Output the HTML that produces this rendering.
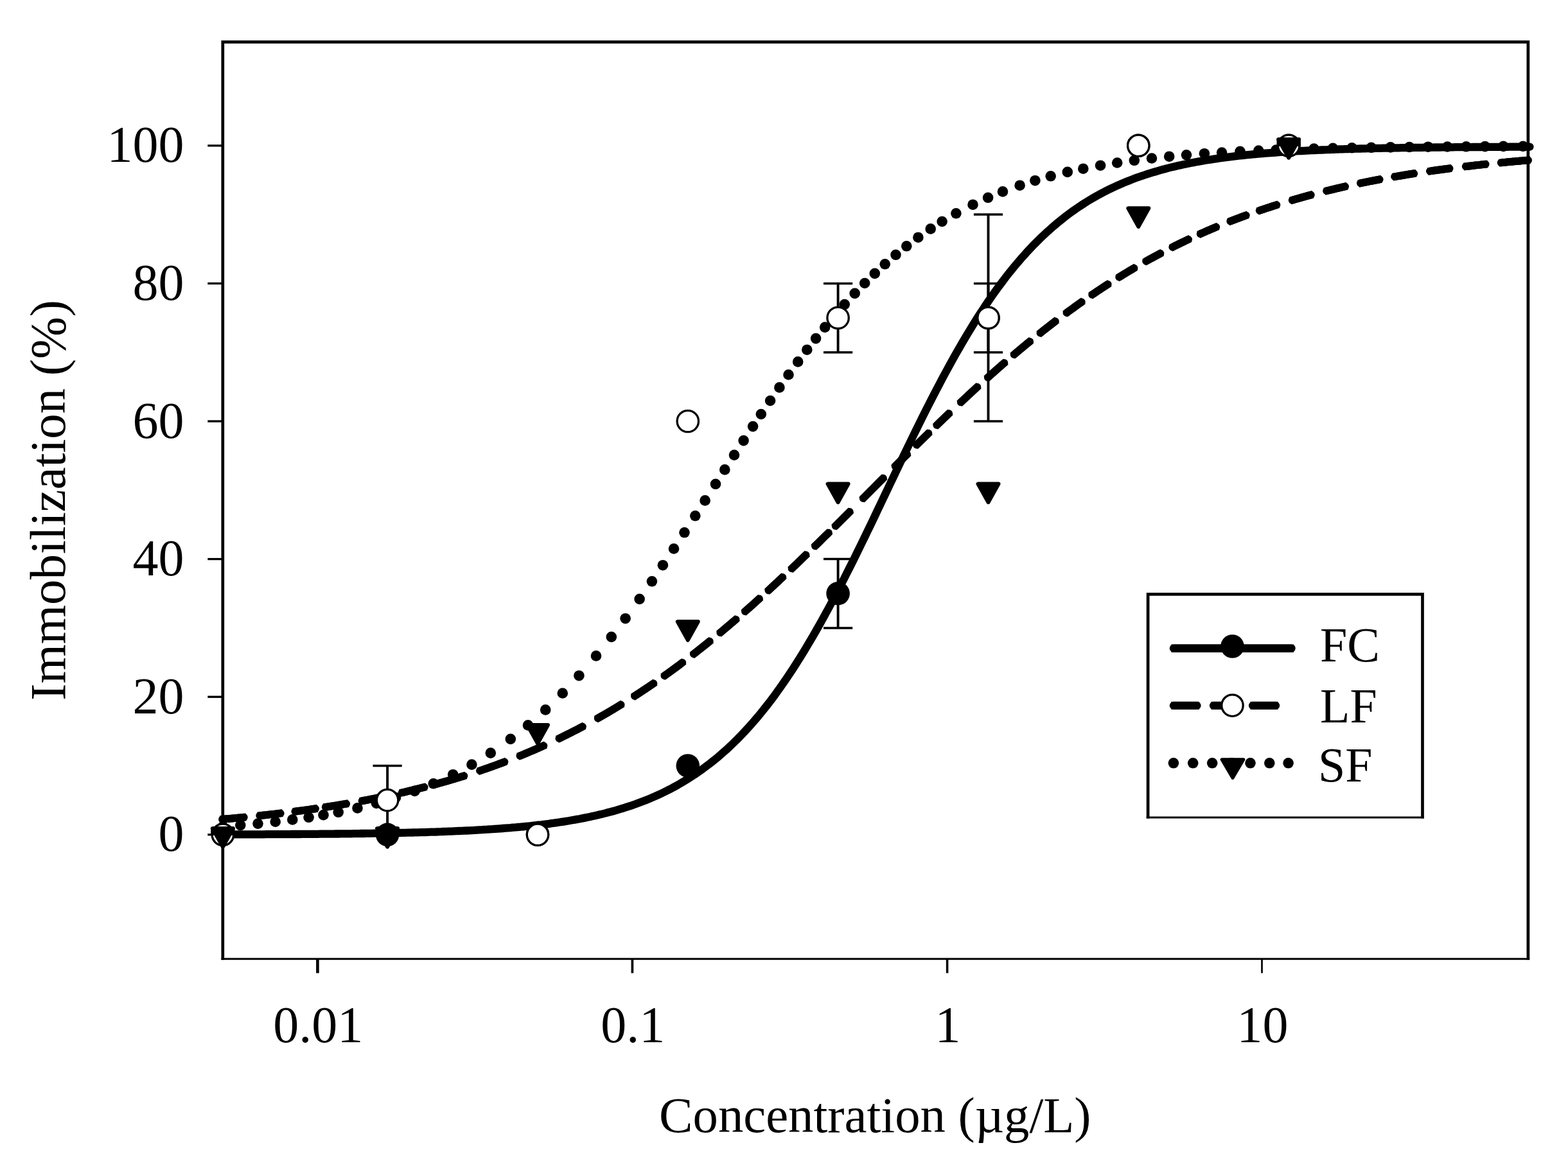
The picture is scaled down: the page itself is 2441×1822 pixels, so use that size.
<!DOCTYPE html>
<html lang="en"><head><meta charset="utf-8"><title>Immobilization vs concentration</title>
<style>html,body{margin:0;padding:0;background:#fff}body{width:2441px;height:1822px;overflow:hidden}svg{display:block}text{font-family:"Liberation Serif","Times New Roman",serif;fill:#000}</style>
</head><body>
<svg xmlns="http://www.w3.org/2000/svg" width="2441" height="1822" viewBox="0 0 2441 1822">
<rect width="2441" height="1822" fill="#fff"/>
<g id="frame" fill="none" stroke="#000">
<path d="M346.8,1494.8 V65.3 H2378.9 V1494.8" stroke-width="4.7" stroke-linejoin="miter"/>
<path d="M344.4,1493.3 H2381.2" stroke-width="3.1"/>
<path d="M349.2,1491.1 H2376.6" stroke="#d4d4d4" stroke-width="1.3"/>
</g>
<g id="ticks" stroke="#000" fill="none">
<path d="M323.3,1299.8 H346.8" stroke-width="3.3"/>
<path d="M323.3,1085.2 H346.8" stroke-width="3.3"/>
<path d="M323.3,870.6 H346.8" stroke-width="3.3"/>
<path d="M323.3,656.0 H346.8" stroke-width="3.3"/>
<path d="M323.3,441.4 H346.8" stroke-width="3.3"/>
<path d="M323.3,226.8 H346.8" stroke-width="3.3"/>
<path d="M494.4,1493.3 V1515.4" stroke-width="4.6"/>
<path d="M984.4,1493.3 V1515.4" stroke-width="3.7"/>
<path d="M1474.6,1493.3 V1515.4" stroke-width="3.5"/>
<path d="M1964.5,1493.3 V1515.4" stroke-width="2.7"/>
</g>
<g id="curves" fill="none" stroke="#000" stroke-linecap="round" stroke-linejoin="round">
<path id="fc-curve" d="M346.8,1299.5 L350.8,1299.5 L354.8,1299.5 L358.8,1299.4 L362.8,1299.4 L366.8,1299.4 L370.8,1299.4 L374.8,1299.4 L378.8,1299.4 L382.8,1299.4 L386.8,1299.4 L390.8,1299.3 L394.8,1299.3 L398.8,1299.3 L402.8,1299.3 L406.8,1299.3 L410.8,1299.3 L414.8,1299.2 L418.8,1299.2 L422.8,1299.2 L426.7,1299.2 L430.7,1299.2 L434.7,1299.2 L438.7,1299.1 L442.7,1299.1 L446.7,1299.1 L450.7,1299.1 L454.7,1299.0 L458.7,1299.0 L462.7,1299.0 L466.7,1299.0 L470.7,1298.9 L474.7,1298.9 L478.7,1298.9 L482.7,1298.9 L486.7,1298.8 L490.7,1298.8 L494.7,1298.8 L498.7,1298.7 L502.7,1298.7 L506.7,1298.7 L510.7,1298.6 L514.7,1298.6 L518.7,1298.6 L522.7,1298.5 L526.7,1298.5 L530.7,1298.4 L534.7,1298.4 L538.7,1298.3 L542.7,1298.3 L546.7,1298.3 L550.7,1298.2 L554.7,1298.2 L558.7,1298.1 L562.7,1298.0 L566.7,1298.0 L570.7,1297.9 L574.7,1297.9 L578.7,1297.8 L582.6,1297.7 L586.6,1297.7 L590.6,1297.6 L594.6,1297.5 L598.6,1297.5 L602.6,1297.4 L606.6,1297.3 L610.6,1297.2 L614.6,1297.2 L618.6,1297.1 L622.6,1297.0 L626.6,1296.9 L630.6,1296.8 L634.6,1296.7 L638.6,1296.6 L642.6,1296.5 L646.6,1296.4 L650.6,1296.3 L654.6,1296.2 L658.6,1296.1 L662.6,1296.0 L666.6,1295.8 L670.6,1295.7 L674.6,1295.6 L678.6,1295.5 L682.6,1295.3 L686.6,1295.2 L690.6,1295.0 L694.6,1294.9 L698.6,1294.7 L702.6,1294.6 L706.6,1294.4 L710.6,1294.2 L714.6,1294.0 L718.6,1293.9 L722.6,1293.7 L726.6,1293.5 L730.6,1293.3 L734.6,1293.1 L738.5,1292.9 L742.5,1292.6 L746.5,1292.4 L750.5,1292.2 L754.5,1291.9 L758.5,1291.7 L762.5,1291.4 L766.5,1291.2 L770.5,1290.9 L774.5,1290.6 L778.5,1290.3 L782.5,1290.0 L786.5,1289.7 L790.5,1289.4 L794.5,1289.1 L798.5,1288.7 L802.5,1288.4 L806.5,1288.0 L810.5,1287.7 L814.5,1287.3 L818.5,1286.9 L822.5,1286.5 L826.5,1286.1 L830.5,1285.6 L834.5,1285.2 L838.5,1284.7 L842.5,1284.3 L846.5,1283.8 L850.5,1283.3 L854.5,1282.8 L858.5,1282.2 L862.5,1281.7 L866.5,1281.1 L870.5,1280.5 L874.5,1279.9 L878.5,1279.3 L882.5,1278.7 L886.5,1278.0 L890.5,1277.3 L894.5,1276.6 L898.4,1275.9 L902.4,1275.2 L906.4,1274.4 L910.4,1273.6 L914.4,1272.8 L918.4,1272.0 L922.4,1271.1 L926.4,1270.2 L930.4,1269.3 L934.4,1268.3 L938.4,1267.4 L942.4,1266.4 L946.4,1265.3 L950.4,1264.3 L954.4,1263.2 L958.4,1262.1 L962.4,1260.9 L966.4,1259.7 L970.4,1258.5 L974.4,1257.2 L978.4,1255.9 L982.4,1254.6 L986.4,1253.2 L990.4,1251.8 L994.4,1250.3 L998.4,1248.8 L1002.4,1247.3 L1006.4,1245.7 L1010.4,1244.1 L1014.4,1242.4 L1018.4,1240.7 L1022.4,1238.9 L1026.4,1237.1 L1030.4,1235.2 L1034.4,1233.3 L1038.4,1231.3 L1042.4,1229.2 L1046.4,1227.2 L1050.4,1225.0 L1054.3,1222.8 L1058.3,1220.5 L1062.3,1218.2 L1066.3,1215.8 L1070.3,1213.3 L1074.3,1210.8 L1078.3,1208.2 L1082.3,1205.6 L1086.3,1202.8 L1090.3,1200.0 L1094.3,1197.2 L1098.3,1194.2 L1102.3,1191.2 L1106.3,1188.1 L1110.3,1184.9 L1114.3,1181.7 L1118.3,1178.4 L1122.3,1174.9 L1126.3,1171.4 L1130.3,1167.9 L1134.3,1164.2 L1138.3,1160.4 L1142.3,1156.6 L1146.3,1152.7 L1150.3,1148.6 L1154.3,1144.5 L1158.3,1140.3 L1162.3,1136.0 L1166.3,1131.6 L1170.3,1127.1 L1174.3,1122.5 L1178.3,1117.9 L1182.3,1113.1 L1186.3,1108.2 L1190.3,1103.2 L1194.3,1098.1 L1198.3,1093.0 L1202.3,1087.7 L1206.3,1082.3 L1210.2,1076.8 L1214.2,1071.2 L1218.2,1065.5 L1222.2,1059.8 L1226.2,1053.9 L1230.2,1047.9 L1234.2,1041.8 L1238.2,1035.6 L1242.2,1029.3 L1246.2,1022.9 L1250.2,1016.5 L1254.2,1009.9 L1258.2,1003.2 L1262.2,996.4 L1266.2,989.6 L1270.2,982.6 L1274.2,975.6 L1278.2,968.5 L1282.2,961.2 L1286.2,953.9 L1290.2,946.6 L1294.2,939.1 L1298.2,931.6 L1302.2,924.0 L1306.2,916.3 L1310.2,908.5 L1314.2,900.7 L1318.2,892.8 L1322.2,884.9 L1326.2,876.9 L1330.2,868.9 L1334.2,860.8 L1338.2,852.6 L1342.2,844.4 L1346.2,836.2 L1350.2,827.9 L1354.2,819.7 L1358.2,811.3 L1362.2,803.0 L1366.1,794.6 L1370.1,786.3 L1374.1,777.9 L1378.1,769.5 L1382.1,761.1 L1386.1,752.7 L1390.1,744.3 L1394.1,735.9 L1398.1,727.6 L1402.1,719.2 L1406.1,710.9 L1410.1,702.6 L1414.1,694.3 L1418.1,686.1 L1422.1,677.9 L1426.1,669.8 L1430.1,661.6 L1434.1,653.6 L1438.1,645.6 L1442.1,637.6 L1446.1,629.7 L1450.1,621.9 L1454.1,614.1 L1458.1,606.4 L1462.1,598.8 L1466.1,591.2 L1470.1,583.7 L1474.1,576.3 L1478.1,569.0 L1482.1,561.8 L1486.1,554.6 L1490.1,547.5 L1494.1,540.6 L1498.1,533.7 L1502.1,526.9 L1506.1,520.2 L1510.1,513.6 L1514.1,507.0 L1518.1,500.6 L1522.0,494.3 L1526.0,488.1 L1530.0,482.0 L1534.0,476.0 L1538.0,470.0 L1542.0,464.2 L1546.0,458.5 L1550.0,452.9 L1554.0,447.4 L1558.0,442.0 L1562.0,436.7 L1566.0,431.4 L1570.0,426.3 L1574.0,421.3 L1578.0,416.4 L1582.0,411.6 L1586.0,406.9 L1590.0,402.3 L1594.0,397.8 L1598.0,393.3 L1602.0,389.0 L1606.0,384.8 L1610.0,380.6 L1614.0,376.6 L1618.0,372.6 L1622.0,368.7 L1626.0,365.0 L1630.0,361.3 L1634.0,357.7 L1638.0,354.1 L1642.0,350.7 L1646.0,347.3 L1650.0,344.1 L1654.0,340.9 L1658.0,337.7 L1662.0,334.7 L1666.0,331.7 L1670.0,328.8 L1674.0,326.0 L1677.9,323.3 L1681.9,320.6 L1685.9,318.0 L1689.9,315.4 L1693.9,312.9 L1697.9,310.5 L1701.9,308.2 L1705.9,305.9 L1709.9,303.7 L1713.9,301.5 L1717.9,299.4 L1721.9,297.3 L1725.9,295.3 L1729.9,293.4 L1733.9,291.5 L1737.9,289.7 L1741.9,287.9 L1745.9,286.1 L1749.9,284.4 L1753.9,282.8 L1757.9,281.2 L1761.9,279.6 L1765.9,278.1 L1769.9,276.6 L1773.9,275.2 L1777.9,273.8 L1781.9,272.5 L1785.9,271.2 L1789.9,269.9 L1793.9,268.7 L1797.9,267.5 L1801.9,266.3 L1805.9,265.1 L1809.9,264.0 L1813.9,263.0 L1817.9,261.9 L1821.9,260.9 L1825.9,259.9 L1829.9,259.0 L1833.8,258.1 L1837.8,257.2 L1841.8,256.3 L1845.8,255.5 L1849.8,254.6 L1853.8,253.8 L1857.8,253.1 L1861.8,252.3 L1865.8,251.6 L1869.8,250.9 L1873.8,250.2 L1877.8,249.5 L1881.8,248.9 L1885.8,248.3 L1889.8,247.7 L1893.8,247.1 L1897.8,246.5 L1901.8,245.9 L1905.8,245.4 L1909.8,244.9 L1913.8,244.4 L1917.8,243.9 L1921.8,243.4 L1925.8,242.9 L1929.8,242.5 L1933.8,242.1 L1937.8,241.6 L1941.8,241.2 L1945.8,240.8 L1949.8,240.4 L1953.8,240.1 L1957.8,239.7 L1961.8,239.4 L1965.8,239.0 L1969.8,238.7 L1973.8,238.4 L1977.8,238.1 L1981.8,237.8 L1985.8,237.5 L1989.8,237.2 L1993.7,236.9 L1997.7,236.6 L2001.7,236.4 L2005.7,236.1 L2009.7,235.9 L2013.7,235.6 L2017.7,235.4 L2021.7,235.2 L2025.7,235.0 L2029.7,234.8 L2033.7,234.6 L2037.7,234.4 L2041.7,234.2 L2045.7,234.0 L2049.7,233.8 L2053.7,233.7 L2057.7,233.5 L2061.7,233.3 L2065.7,233.2 L2069.7,233.0 L2073.7,232.9 L2077.7,232.7 L2081.7,232.6 L2085.7,232.4 L2089.7,232.3 L2093.7,232.2 L2097.7,232.1 L2101.7,231.9 L2105.7,231.8 L2109.7,231.7 L2113.7,231.6 L2117.7,231.5 L2121.7,231.4 L2125.7,231.3 L2129.7,231.2 L2133.7,231.1 L2137.7,231.0 L2141.7,230.9 L2145.7,230.9 L2149.6,230.8 L2153.6,230.7 L2157.6,230.6 L2161.6,230.5 L2165.6,230.5 L2169.6,230.4 L2173.6,230.3 L2177.6,230.3 L2181.6,230.2 L2185.6,230.1 L2189.6,230.1 L2193.6,230.0 L2197.6,230.0 L2201.6,229.9 L2205.6,229.9 L2209.6,229.8 L2213.6,229.8 L2217.6,229.7 L2221.6,229.7 L2225.6,229.6 L2229.6,229.6 L2233.6,229.5 L2237.6,229.5 L2241.6,229.5 L2245.6,229.4 L2249.6,229.4 L2253.6,229.3 L2257.6,229.3 L2261.6,229.3 L2265.6,229.2 L2269.6,229.2 L2273.6,229.2 L2277.6,229.1 L2281.6,229.1 L2285.6,229.1 L2289.6,229.1 L2293.6,229.0 L2297.6,229.0 L2301.6,229.0 L2305.5,229.0 L2309.5,228.9 L2313.5,228.9 L2317.5,228.9 L2321.5,228.9 L2325.5,228.8 L2329.5,228.8 L2333.5,228.8 L2337.5,228.8 L2341.5,228.8 L2345.5,228.8 L2349.5,228.7 L2353.5,228.7 L2357.5,228.7 L2361.5,228.7 L2365.5,228.7 L2369.5,228.7 L2373.5,228.6 L2377.5,228.6 L2381.5,228.6" stroke-width="12.3"/>
<path id="lf-curve" d="M346.0,1275.9 L349.8,1275.5 L353.5,1275.2 L357.3,1274.9 L361.0,1274.5 L364.8,1274.2 L368.5,1273.8 L372.3,1273.5 L376.0,1273.1 L379.8,1272.7 M404.2,1270.2 L407.8,1269.8 L411.4,1269.4 L415.0,1269.0 L418.6,1268.6 L422.3,1268.2 L425.9,1267.8 L429.5,1267.4 L433.1,1266.9 L436.7,1266.5 M459.3,1263.7 L463.3,1263.1 L467.2,1262.6 L471.2,1262.1 L475.2,1261.5 L479.2,1261.0 L483.1,1260.4 L487.1,1259.9 L491.1,1259.3 M506.7,1256.9 L510.3,1256.4 L513.9,1255.8 L517.5,1255.2 L521.1,1254.7 L524.8,1254.1 L528.4,1253.5 L532.0,1252.9 L535.6,1252.3 L539.2,1251.6 M563.6,1247.3 L567.2,1246.6 L570.8,1245.9 L574.4,1245.2 L578.0,1244.5 L581.7,1243.8 L585.3,1243.1 L588.9,1242.3 L592.5,1241.6 L596.1,1240.8 M625.7,1234.4 L629.6,1233.5 L633.5,1232.6 L637.4,1231.6 L641.3,1230.7 L645.1,1229.7 L649.0,1228.8 L652.9,1227.8 L656.8,1226.8 L660.7,1225.8 M677.9,1221.3 L681.6,1220.3 L685.3,1219.2 L689.0,1218.2 L692.7,1217.1 L696.4,1216.1 L700.1,1215.0 L703.9,1213.9 L707.6,1212.8 L711.3,1211.7 L715.0,1210.6 L718.7,1209.4 L722.4,1208.3 M747.0,1200.3 L750.8,1199.0 L754.7,1197.6 L758.5,1196.3 L762.4,1195.0 L766.2,1193.6 L770.0,1192.2 L773.9,1190.8 L777.7,1189.4 L781.6,1188.0 L785.4,1186.5 M809.4,1177.1 L813.1,1175.6 L816.8,1174.0 L820.5,1172.5 L824.2,1170.9 L827.9,1169.4 L831.6,1167.8 L835.3,1166.1 L839.0,1164.5 L842.7,1162.9 L846.4,1161.2 M870.4,1150.0 L874.0,1148.2 L877.7,1146.4 L881.4,1144.6 L885.0,1142.8 L888.6,1141.0 L892.3,1139.1 L895.9,1137.3 L899.6,1135.4 L903.2,1133.4 L906.9,1131.5 M930.7,1118.5 L934.7,1116.2 L938.7,1114.0 L942.7,1111.6 L946.7,1109.3 L950.6,1107.0 L954.6,1104.6 L958.6,1102.2 L962.6,1099.8 L966.6,1097.3 M987.9,1083.9 L991.6,1081.5 L995.3,1079.1 L999.0,1076.7 L1002.6,1074.2 L1006.3,1071.8 L1010.0,1069.3 L1013.7,1066.8 L1017.4,1064.3 M1034.4,1052.4 L1038.4,1049.5 L1042.4,1046.6 L1046.4,1043.7 L1050.3,1040.8 L1054.3,1037.9 L1058.3,1034.9 L1062.3,1031.9 M1079.8,1018.5 L1083.4,1015.8 L1086.9,1013.0 L1090.5,1010.1 L1094.1,1007.3 L1097.7,1004.5 L1101.2,1001.6 L1104.8,998.7 M1121.3,985.2 L1124.8,982.3 L1128.2,979.3 L1131.7,976.4 L1135.2,973.5 L1138.7,970.5 L1142.1,967.5 L1145.6,964.6 M1159.9,952.1 L1163.6,948.9 L1167.3,945.6 L1171.0,942.3 L1174.6,939.0 L1178.3,935.7 L1182.0,932.4 M1196.3,919.3 L1200.0,916.0 L1203.6,912.6 L1207.3,909.2 L1211.0,905.8 L1214.6,902.3 L1218.3,898.9 M1232.6,885.4 L1236.3,881.9 L1239.9,878.4 L1243.6,874.9 L1247.3,871.3 L1250.9,867.8 L1254.6,864.2 M1268.9,850.3 L1272.4,846.9 L1275.9,843.5 L1279.4,840.0 L1282.9,836.6 L1286.4,833.1 L1289.9,829.7 M1300.6,819.1 L1304.3,815.4 L1308.0,811.7 L1311.7,808.0 L1315.4,804.3 L1319.1,800.6 L1322.8,796.9 M1343.7,776.0 L1347.6,772.1 L1351.5,768.2 L1355.4,764.2 L1359.3,760.3 L1363.3,756.4 L1367.2,752.4 L1371.1,748.5 L1375.0,744.6 M1393.6,726.0 L1397.3,722.3 L1401.0,718.6 L1404.7,714.9 L1408.4,711.2 L1412.1,707.5 M1426.9,692.9 L1430.6,689.2 L1434.3,685.6 L1438.0,682.0 L1441.7,678.3 L1445.4,674.7 M1458.3,662.2 L1462.1,658.5 L1465.9,654.9 L1469.6,651.2 L1473.4,647.6 L1477.2,644.0 M1495.8,626.4 L1499.5,623.0 L1503.1,619.6 L1506.8,616.1 L1510.4,612.8 L1514.1,609.4 L1517.7,606.0 L1521.4,602.7 M1537.8,587.8 L1541.5,584.5 L1545.1,581.3 L1548.8,578.0 L1552.4,574.8 L1556.1,571.6 L1559.7,568.4 L1563.4,565.2 M1578.6,552.2 L1582.1,549.2 L1585.6,546.3 L1589.1,543.3 L1592.6,540.4 L1596.1,537.5 L1599.6,534.6 L1603.1,531.8 M1619.5,518.6 L1623.4,515.5 L1627.3,512.4 L1631.2,509.3 L1635.1,506.3 L1639.0,503.3 L1642.9,500.3 M1660.5,487.1 L1664.4,484.3 L1668.3,481.4 L1672.2,478.6 L1676.0,475.8 L1679.9,473.0 L1683.8,470.3 M1700.2,458.9 L1703.7,456.6 L1707.2,454.2 L1710.7,451.9 L1714.2,449.5 L1717.7,447.2 L1721.2,444.9 L1724.7,442.7 M1742.2,431.6 L1746.1,429.2 L1750.0,426.8 L1753.8,424.5 L1757.7,422.1 L1761.6,419.8 L1765.5,417.5 M1784.1,406.8 L1787.8,404.8 L1791.5,402.7 L1795.2,400.7 L1799.0,398.7 L1802.7,396.7 L1806.4,394.7 M1825.3,384.9 L1828.8,383.1 L1832.4,381.3 L1835.9,379.6 L1839.5,377.9 L1843.0,376.2 L1846.6,374.5 L1850.1,372.8 M1868.7,364.2 L1872.2,362.6 L1875.7,361.1 L1879.2,359.5 L1882.8,358.0 L1886.3,356.5 L1889.8,355.0 L1893.3,353.5 M1915.3,344.6 L1918.8,343.2 L1922.3,341.9 L1925.8,340.5 L1929.3,339.2 L1932.8,337.9 L1936.3,336.6 L1939.8,335.3 M1960.7,327.9 L1964.5,326.6 L1968.3,325.3 L1972.1,324.0 L1976.0,322.8 L1979.8,321.5 L1983.6,320.3 L1987.4,319.1 M2011.7,311.7 L2015.3,310.6 L2019.0,309.6 L2022.6,308.6 L2026.2,307.5 L2029.9,306.5 L2033.5,305.5 L2037.2,304.5 L2040.8,303.5 M2065.1,297.3 L2068.7,296.4 L2072.3,295.5 L2076.0,294.7 L2079.6,293.8 L2083.2,292.9 L2086.8,292.1 L2090.5,291.3 L2094.1,290.5 M2117.9,285.3 L2121.6,284.5 L2125.3,283.8 L2129.1,283.0 L2132.8,282.3 L2136.5,281.6 L2140.2,280.8 L2144.0,280.1 L2147.7,279.4 M2171.1,275.2 L2174.9,274.5 L2178.6,273.9 L2182.4,273.3 L2186.2,272.6 L2190.0,272.0 L2193.8,271.4 L2197.5,270.8 L2201.3,270.2 M2225.9,266.5 L2229.7,266.0 L2233.6,265.4 L2237.4,264.9 L2241.2,264.4 L2245.1,263.8 L2248.9,263.3 L2252.8,262.8 L2256.6,262.3 M2281.7,259.2 L2285.6,258.8 L2289.5,258.3 L2293.3,257.9 L2297.2,257.4 L2301.1,257.0 L2304.9,256.6 L2308.8,256.2 L2312.7,255.7 M2336.7,253.3 L2340.6,252.9 L2344.4,252.6 L2348.3,252.2 L2352.1,251.8 L2356.0,251.5 L2359.8,251.1 L2363.7,250.8 L2367.5,250.5 L2371.4,250.1 L2375.2,249.8 L2379.1,249.5" stroke-width="11.8"/>
<path id="lf-curve-body" d="M342.7,1276.2 L346.4,1275.8 L350.1,1275.5 L353.7,1275.2 L357.4,1274.9 L361.1,1274.5 L364.7,1274.2 L368.4,1273.8 L372.1,1273.5 L375.7,1273.1 L379.4,1272.8 L383.1,1272.4 M400.9,1270.6 L404.8,1270.1 L408.7,1269.7 L412.6,1269.3 L416.5,1268.9 L420.4,1268.4 L424.4,1268.0 L428.3,1267.5 L432.2,1267.1 L436.1,1266.6 L440.0,1266.1 M456.0,1264.1 L459.9,1263.6 L463.7,1263.1 L467.5,1262.6 L471.4,1262.1 L475.2,1261.5 L479.0,1261.0 L482.9,1260.5 L486.7,1259.9 L490.5,1259.4 L494.4,1258.8 M503.4,1257.4 L507.3,1256.8 L511.2,1256.2 L515.1,1255.6 L519.0,1255.0 L522.9,1254.4 L526.8,1253.7 L530.7,1253.1 L534.6,1252.4 L538.6,1251.8 L542.5,1251.1 M560.4,1247.9 L564.3,1247.1 L568.2,1246.4 L572.0,1245.7 L575.9,1244.9 L579.8,1244.1 L583.7,1243.4 L587.6,1242.6 L591.5,1241.8 L595.4,1241.0 L599.3,1240.2 M622.5,1235.1 L626.2,1234.2 L630.0,1233.4 L633.8,1232.5 L637.5,1231.6 L641.3,1230.7 L645.1,1229.8 L648.8,1228.8 L652.6,1227.9 L656.4,1226.9 L660.1,1226.0 L663.9,1225.0 M674.7,1222.1 L678.6,1221.1 L682.5,1220.0 L686.4,1218.9 L690.4,1217.8 L694.3,1216.7 L698.2,1215.6 L702.1,1214.4 L706.0,1213.3 L709.9,1212.1 L713.8,1210.9 L717.7,1209.7 L721.6,1208.5 L725.5,1207.3 M743.9,1201.3 L747.6,1200.1 L751.3,1198.8 L755.0,1197.5 L758.7,1196.2 L762.5,1194.9 L766.2,1193.6 L769.9,1192.3 L773.6,1190.9 L777.3,1189.5 L781.1,1188.1 L784.8,1186.7 L788.5,1185.3 M806.3,1178.3 L810.3,1176.7 L814.2,1175.1 L818.1,1173.5 L822.0,1171.9 L825.9,1170.2 L829.8,1168.5 L833.7,1166.8 L837.7,1165.1 L841.6,1163.4 L845.5,1161.6 L849.4,1159.8 M867.4,1151.4 L871.3,1149.6 L875.1,1147.7 L879.0,1145.8 L882.8,1143.9 L886.7,1142.0 L890.5,1140.0 L894.4,1138.0 L898.3,1136.1 L902.1,1134.0 L906.0,1132.0 L909.8,1130.0 M927.8,1120.1 L931.6,1118.0 L935.4,1115.8 L939.2,1113.7 L942.9,1111.5 L946.7,1109.3 L950.5,1107.0 L954.3,1104.8 L958.1,1102.5 L961.9,1100.2 L965.6,1097.9 L969.4,1095.6 M985.1,1085.7 L989.0,1083.2 L992.9,1080.7 L996.8,1078.1 L1000.7,1075.6 L1004.6,1073.0 L1008.5,1070.4 L1012.3,1067.7 L1016.2,1065.1 L1020.1,1062.4 M1031.7,1054.3 L1035.4,1051.6 L1039.1,1049.0 L1042.8,1046.3 L1046.5,1043.6 L1050.2,1040.9 L1053.9,1038.2 L1057.6,1035.5 L1061.2,1032.7 L1064.9,1029.9 M1077.2,1020.6 L1081.0,1017.6 L1084.7,1014.7 L1088.5,1011.7 L1092.3,1008.7 L1096.0,1005.7 L1099.8,1002.7 L1103.6,999.7 L1107.4,996.6 M1118.8,987.3 L1122.4,984.2 L1126.1,981.1 L1129.8,978.1 L1133.4,975.0 L1137.1,971.8 L1140.8,968.7 L1144.4,965.6 L1148.1,962.4 M1157.4,954.3 L1161.3,950.9 L1165.1,947.5 L1169.0,944.0 L1172.9,940.6 L1176.7,937.1 L1180.6,933.7 L1184.4,930.2 M1193.9,921.6 L1197.7,918.1 L1201.5,914.5 L1205.4,911.0 L1209.2,907.4 L1213.0,903.8 L1216.9,900.2 L1220.7,896.6 M1230.2,887.6 L1234.0,884.0 L1237.9,880.4 L1241.7,876.7 L1245.5,873.0 L1249.3,869.3 L1253.1,865.6 L1257.0,861.9 M1266.5,852.6 L1270.2,849.0 L1273.9,845.4 L1277.6,841.8 L1281.2,838.2 L1284.9,834.6 L1288.6,831.0 L1292.2,827.4 M1298.3,821.4 L1302.1,817.6 L1305.9,813.8 L1309.8,810.0 L1313.6,806.1 L1317.5,802.3 L1321.3,798.5 L1325.1,794.6 M1341.4,778.3 L1345.4,774.3 L1349.4,770.3 L1353.4,766.3 L1357.4,762.3 L1361.3,758.3 L1365.3,754.3 L1369.3,750.3 L1373.3,746.3 L1377.3,742.3 M1391.3,728.3 L1395.1,724.4 L1399.0,720.6 L1402.9,716.7 L1406.7,712.9 L1410.6,709.1 L1414.4,705.2 M1424.6,695.2 L1428.4,691.4 L1432.3,687.6 L1436.2,683.8 L1440.0,680.0 L1443.9,676.2 L1447.8,672.4 M1455.9,664.5 L1459.9,660.7 L1463.8,656.8 L1467.8,653.0 L1471.7,649.3 L1475.6,645.5 L1479.6,641.7 M1493.4,628.7 L1497.2,625.1 L1501.0,621.5 L1504.8,618.0 L1508.6,614.4 L1512.4,610.9 L1516.2,607.4 L1520.0,603.9 L1523.8,600.4 M1535.3,590.0 L1539.2,586.6 L1543.0,583.2 L1546.8,579.8 L1550.6,576.4 L1554.4,573.1 L1558.3,569.7 L1562.1,566.4 L1565.9,563.1 M1576.1,554.3 L1579.8,551.2 L1583.5,548.1 L1587.2,545.0 L1590.9,541.9 L1594.6,538.8 L1598.3,535.7 L1602.0,532.7 L1605.7,529.7 M1616.9,520.6 L1620.5,517.8 L1624.1,514.9 L1627.6,512.1 L1631.2,509.3 L1634.8,506.6 L1638.4,503.8 L1641.9,501.0 L1645.5,498.3 M1657.8,489.1 L1661.4,486.4 L1665.0,483.8 L1668.6,481.2 L1672.2,478.6 L1675.8,476.0 L1679.3,473.5 L1682.9,470.9 L1686.5,468.4 M1697.5,460.8 L1701.2,458.2 L1705.0,455.7 L1708.7,453.2 L1712.5,450.7 L1716.2,448.2 L1720.0,445.7 L1723.7,443.3 L1727.5,440.9 M1739.4,433.3 L1743.0,431.1 L1746.6,428.9 L1750.3,426.6 L1753.9,424.5 L1757.5,422.3 L1761.1,420.1 L1764.7,418.0 L1768.3,415.9 M1781.2,408.5 L1784.7,406.5 L1788.2,404.5 L1791.8,402.6 L1795.3,400.7 L1798.8,398.8 L1802.3,396.9 L1805.8,395.0 L1809.3,393.1 M1822.4,386.4 L1826.2,384.4 L1830.0,382.5 L1833.9,380.6 L1837.7,378.7 L1841.6,376.9 L1845.4,375.0 L1849.2,373.2 L1853.1,371.4 M1865.7,365.6 L1869.5,363.8 L1873.4,362.1 L1877.2,360.4 L1881.0,358.8 L1884.8,357.1 L1888.7,355.5 L1892.5,353.9 L1896.3,352.3 M1912.2,345.8 L1916.1,344.3 L1919.9,342.8 L1923.7,341.3 L1927.6,339.9 L1931.4,338.4 L1935.2,337.0 L1939.1,335.6 L1942.9,334.2 M1957.6,329.0 L1961.2,327.7 L1964.9,326.5 L1968.6,325.2 L1972.2,324.0 L1975.9,322.8 L1979.6,321.6 L1983.2,320.4 L1986.9,319.3 L1990.5,318.1 M2008.5,312.6 L2012.5,311.5 L2016.4,310.3 L2020.4,309.2 L2024.3,308.1 L2028.2,307.0 L2032.2,305.9 L2036.1,304.8 L2040.0,303.7 L2044.0,302.7 M2061.9,298.1 L2065.8,297.1 L2069.8,296.2 L2073.7,295.2 L2077.6,294.3 L2081.6,293.3 L2085.5,292.4 L2089.4,291.5 L2093.4,290.6 L2097.3,289.7 M2114.7,286.0 L2118.3,285.2 L2121.9,284.5 L2125.6,283.7 L2129.2,283.0 L2132.8,282.3 L2136.4,281.6 L2140.1,280.9 L2143.7,280.2 L2147.3,279.5 L2150.9,278.8 M2167.8,275.8 L2171.5,275.1 L2175.2,274.5 L2178.9,273.9 L2182.5,273.2 L2186.2,272.6 L2189.9,272.0 L2193.5,271.4 L2197.2,270.9 L2200.9,270.3 L2204.6,269.7 M2222.6,267.0 L2226.4,266.5 L2230.1,265.9 L2233.8,265.4 L2237.5,264.9 L2241.3,264.4 L2245.0,263.9 L2248.7,263.4 L2252.4,262.9 L2256.1,262.4 L2259.9,261.9 M2278.4,259.6 L2282.2,259.2 L2285.9,258.7 L2289.7,258.3 L2293.4,257.9 L2297.2,257.4 L2301.0,257.0 L2304.7,256.6 L2308.5,256.2 L2312.2,255.8 L2316.0,255.4 M2333.4,253.6 L2337.2,253.3 L2340.9,252.9 L2344.7,252.5 L2348.5,252.2 L2352.3,251.8 L2356.0,251.5 L2359.8,251.1 L2363.6,250.8 L2367.3,250.5 L2371.1,250.1 L2374.9,249.8 L2378.6,249.5 L2382.4,249.2" stroke-width="11.8" stroke-linecap="butt"/>
</g>
<g id="sf-curve" fill="#000">
<circle cx="346.8" cy="1287.3" r="8.30"/>
<circle cx="374.3" cy="1285.1" r="8.30"/>
<circle cx="401.5" cy="1282.6" r="8.30"/>
<circle cx="428.7" cy="1279.7" r="8.30"/>
<circle cx="455.3" cy="1276.4" r="8.30"/>
<circle cx="480.6" cy="1272.8" r="8.30"/>
<circle cx="503.5" cy="1269.1" r="8.30"/>
<circle cx="526.7" cy="1264.8" r="8.30"/>
<circle cx="556.5" cy="1258.4" r="8.30"/>
<circle cx="586.0" cy="1251.0" r="8.30"/>
<circle cx="616.0" cy="1242.1" r="8.30"/>
<circle cx="645.6" cy="1231.9" r="8.30"/>
<circle cx="674.7" cy="1220.3" r="8.30"/>
<circle cx="705.2" cy="1206.2" r="8.30"/>
<circle cx="734.4" cy="1190.6" r="8.30"/>
<circle cx="763.8" cy="1172.6" r="8.30"/>
<circle cx="794.8" cy="1150.9" r="8.30"/>
<circle cx="822.0" cy="1129.4" r="8.30"/>
<circle cx="849.2" cy="1105.4" r="8.30"/>
<circle cx="875.8" cy="1079.5" r="8.30"/>
<circle cx="901.4" cy="1052.2" r="8.30"/>
<circle cx="928.0" cy="1021.4" r="8.30"/>
<circle cx="951.8" cy="991.9" r="8.30"/>
<circle cx="973.6" cy="963.2" r="8.30"/>
<circle cx="995.6" cy="932.9" r="8.30"/>
<circle cx="1014.9" cy="905.3" r="8.30"/>
<circle cx="1031.9" cy="880.2" r="8.30"/>
<circle cx="1049.0" cy="854.5" r="8.30"/>
<circle cx="1065.5" cy="829.3" r="8.30"/>
<circle cx="1082.3" cy="803.3" r="8.30"/>
<circle cx="1097.6" cy="779.4" r="8.30"/>
<circle cx="1114.0" cy="753.8" r="8.30"/>
<circle cx="1128.3" cy="731.4" r="8.30"/>
<circle cx="1143.0" cy="708.6" r="8.30"/>
<circle cx="1157.6" cy="686.1" r="8.30"/>
<circle cx="1172.1" cy="664.1" r="8.30"/>
<circle cx="1184.8" cy="645.0" r="8.30"/>
<circle cx="1199.1" cy="624.0" r="8.30"/>
<circle cx="1213.4" cy="603.4" r="8.30"/>
<circle cx="1227.5" cy="583.5" r="8.30"/>
<circle cx="1242.2" cy="563.4" r="8.30"/>
<circle cx="1256.3" cy="544.7" r="8.30"/>
<circle cx="1270.1" cy="527.1" r="8.30"/>
<circle cx="1284.2" cy="509.6" r="8.30"/>
<circle cx="1299.6" cy="491.3" r="8.30"/>
<circle cx="1314.8" cy="474.1" r="8.30"/>
<circle cx="1330.7" cy="456.9" r="8.30"/>
<circle cx="1346.2" cy="441.0" r="8.30"/>
<circle cx="1361.8" cy="425.9" r="8.30"/>
<circle cx="1377.7" cy="411.3" r="8.30"/>
<circle cx="1394.5" cy="396.8" r="8.30"/>
<circle cx="1411.3" cy="383.3" r="8.30"/>
<circle cx="1429.4" cy="369.7" r="8.30"/>
<circle cx="1448.7" cy="356.4" r="8.30"/>
<circle cx="1466.6" cy="345.0" r="8.30"/>
<circle cx="1488.4" cy="332.3" r="8.30"/>
<circle cx="1514.5" cy="318.7" r="8.30"/>
<circle cx="1538.1" cy="307.8" r="8.30"/>
<circle cx="1561.0" cy="298.4" r="8.30"/>
<circle cx="1587.6" cy="288.7" r="8.30"/>
<circle cx="1611.4" cy="281.2" r="8.30"/>
<circle cx="1635.7" cy="274.3" r="8.30"/>
<circle cx="1661.8" cy="267.9" r="8.30"/>
<circle cx="1686.3" cy="262.7" r="8.30"/>
<circle cx="1713.1" cy="257.7" r="8.30"/>
<circle cx="1739.2" cy="253.5" r="8.30"/>
<circle cx="1765.8" cy="249.8" r="8.30"/>
<circle cx="1793.0" cy="246.5" r="8.30"/>
<circle cx="1820.2" cy="243.7" r="8.30"/>
<circle cx="1847.0" cy="241.3" r="8.30"/>
<circle cx="1874.9" cy="239.2" r="8.30"/>
<circle cx="1902.1" cy="237.5" r="8.30"/>
<circle cx="1930.5" cy="235.9" r="8.30"/>
<circle cx="1959.3" cy="234.6" r="8.30"/>
<circle cx="1986.5" cy="233.5" r="8.30"/>
<circle cx="2016.0" cy="232.5" r="8.30"/>
<circle cx="2045.5" cy="231.6" r="8.30"/>
<circle cx="2075.0" cy="230.9" r="8.30"/>
<circle cx="2104.6" cy="230.3" r="8.30"/>
<circle cx="2134.7" cy="229.8" r="8.30"/>
<circle cx="2164.7" cy="229.4" r="8.30"/>
<circle cx="2194.0" cy="229.0" r="8.30"/>
<circle cx="2223.2" cy="228.7" r="8.30"/>
<circle cx="2253.2" cy="228.5" r="8.30"/>
<circle cx="2282.5" cy="228.3" r="8.30"/>
<circle cx="2311.8" cy="228.1" r="8.30"/>
<circle cx="2340.4" cy="227.9" r="8.30"/>
<circle cx="2371.0" cy="227.8" r="8.30"/>
</g>
<g id="errorbars">
<path d="M603.1,1192.5 V1299.8" fill="none" stroke="#000" stroke-width="3.9"/>
<path d="M580.5,1192.5 H625.7 M580.5,1299.8 H625.7" fill="none" stroke="#000" stroke-width="3.5"/>
<path d="M1304.6,870.6 V977.9" fill="none" stroke="#000" stroke-width="3.9"/>
<path d="M1282.0,870.6 H1327.2 M1282.0,977.9 H1327.2" fill="none" stroke="#000" stroke-width="3.5"/>
<path d="M1304.6,441.4 V548.7" fill="none" stroke="#000" stroke-width="3.9"/>
<path d="M1282.0,441.4 H1327.2 M1282.0,548.7 H1327.2" fill="none" stroke="#000" stroke-width="3.5"/>
<path d="M1538.5,334.1 V656.0" fill="none" stroke="#000" stroke-width="3.9"/>
<path d="M1515.9,334.1 H1561.1 M1515.9,656.0 H1561.1" fill="none" stroke="#000" stroke-width="3.5"/>
<path d="M1538.5,441.4 V548.7" fill="none" stroke="#000" stroke-width="3.9"/>
<path d="M1515.9,441.4 H1561.1 M1515.9,548.7 H1561.1" fill="none" stroke="#000" stroke-width="3.5"/>
</g>
<g id="fc-points" fill="#000">
<circle cx="346.9" cy="1299.8" r="18.3"/>
<circle cx="603.1" cy="1299.8" r="18.3"/>
<circle cx="837.0" cy="1299.8" r="18.3"/>
<circle cx="1070.8" cy="1192.5" r="18.3"/>
<circle cx="1304.6" cy="924.2" r="18.3"/>
<circle cx="1538.5" cy="495.0" r="18.3"/>
<circle cx="1772.3" cy="226.8" r="18.3"/>
<circle cx="2006.2" cy="226.8" r="18.3"/>
</g>
<g id="lf-points" fill="#fff" stroke="#000" stroke-width="3.3">
<circle cx="346.9" cy="1299.8" r="16.7"/>
<circle cx="603.1" cy="1246.1" r="16.7"/>
<circle cx="837.0" cy="1299.8" r="16.7"/>
<circle cx="1070.8" cy="656.0" r="16.7"/>
<circle cx="1304.6" cy="495.0" r="16.7"/>
<circle cx="1538.5" cy="495.0" r="16.7"/>
<circle cx="1772.3" cy="226.8" r="16.7"/>
<circle cx="2006.2" cy="226.8" r="16.7"/>
</g>
<g id="sf-overlap" fill="#000">
<rect x="328.2" y="1289.3" width="37.4" height="11.5"/>
<rect x="1987.5" y="216.3" width="37.4" height="11.5"/>
</g>
<g id="sf-points" fill="#000" stroke="#000" stroke-width="6.0" stroke-linejoin="round">
<path d="M330.9,1290.0 L362.9,1290.0 L346.9,1318.7 Z"/>
<path d="M587.1,1290.0 L619.1,1290.0 L603.1,1318.7 Z"/>
<path d="M821.0,1129.0 L853.0,1129.0 L837.0,1157.8 Z"/>
<path d="M1054.8,968.1 L1086.8,968.1 L1070.8,996.8 Z"/>
<path d="M1288.6,753.5 L1320.6,753.5 L1304.6,782.2 Z"/>
<path d="M1522.5,753.5 L1554.5,753.5 L1538.5,782.2 Z"/>
<path d="M1756.3,324.3 L1788.3,324.3 L1772.3,353.0 Z"/>
<path d="M1990.2,217.0 L2022.2,217.0 L2006.2,245.7 Z"/>
</g>
<g id="ylabels" font-size="80" text-anchor="end">
<text x="286.5" y="1325.4">0</text>
<text x="286.5" y="1110.8">20</text>
<text x="286.5" y="896.2">40</text>
<text x="286.5" y="681.6">60</text>
<text x="286.5" y="467.0">80</text>
<text x="286.5" y="252.4">100</text>
</g>
<g id="xlabels" font-size="80" text-anchor="middle">
<text x="495.2" y="1622.6">0.01</text>
<text x="985.3" y="1622.6">0.1</text>
<text x="1475.4" y="1622.6">1</text>
<text x="1965.5" y="1622.6">10</text>
</g>
<text id="xtitle" font-size="78.7" text-anchor="middle" x="1362.3" y="1762.7">Concentration (µg/L)</text>
<text id="ytitle" font-size="78.8" text-anchor="middle" transform="translate(100.6,778.9) rotate(-90)">Immobilization (%)</text>
<g id="legend">
<path d="M1787.1,1274.6 V925.4 H2214.5 V1274.6" fill="#fff" stroke="#000" stroke-width="4.7"/>
<path d="M1784.75,1273.1 H2216.85" fill="none" stroke="#000" stroke-width="3"/>
<g fill="none" stroke="#000" stroke-linecap="round">
<path d="M1826.9,1009.6 H2010.6" stroke-width="12.3"/>
<path d="M1826.8,1098.8 H1863.6 M1888.9,1098.8 H1925 M1949.9,1098.8 H1986.2" stroke-width="12.1"/>
<path d="M1823.4,1009.6 H2014.1" stroke-width="12.3" stroke-linecap="butt"/>
<path d="M1823.3,1098.8 H1867.1 M1885.4,1098.8 H1925 M1946.4,1098.8 H1989.7" stroke-width="12.1" stroke-linecap="butt"/>
</g>
<g fill="#000">
<circle cx="1826.9" cy="1188.3" r="8.30"/>
<circle cx="1857.2" cy="1188.3" r="8.30"/>
<circle cx="1887.2" cy="1188.3" r="8.30"/>
<circle cx="1917.1" cy="1188.3" r="8.30"/>
<circle cx="1946.5" cy="1188.3" r="8.30"/>
<circle cx="1976.3" cy="1188.3" r="8.30"/>
<circle cx="2005.6" cy="1188.3" r="8.30"/>
</g>
<circle cx="1918.5" cy="1006.5" r="18.3" fill="#000"/>
<circle cx="1918.5" cy="1098.6" r="16.7" fill="#fff" stroke="#000" stroke-width="3.3"/>
<path d="M1902.1,1182.8 L1935.9,1182.8 L1919,1211.5 Z" fill="#000" stroke="#000" stroke-width="5" stroke-linejoin="round"/>
<g font-size="76">
<text x="2055" y="1029.6">FC</text>
<text x="2055" y="1124.6">LF</text>
<text x="2052" y="1216.6">SF</text>
</g>
</g>
</svg>
</body></html>
